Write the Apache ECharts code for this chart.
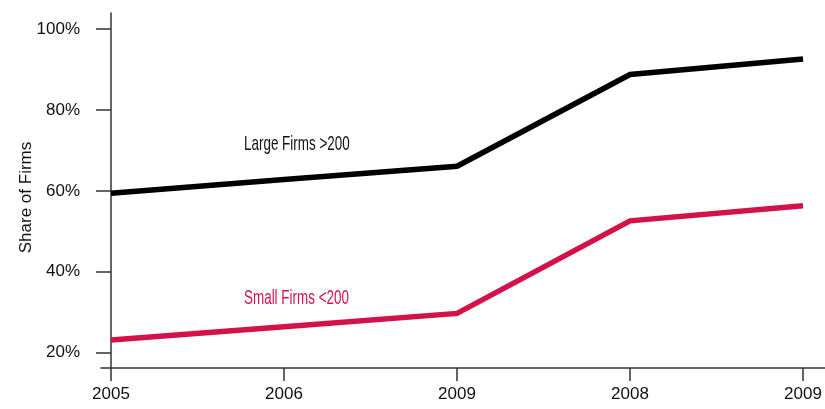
<!DOCTYPE html>
<html>
<head>
<meta charset="utf-8">
<script src="https://cdn.jsdelivr.net/npm/echarts@6/dist/echarts.min.js"></script>
<style>
  html, body { margin: 0; padding: 0; background: #fff; }
  #chart { width: 825px; height: 409px; }
</style>
</head>
<body>
<div id="chart"></div>
<script>
// categories along the x axis (as printed on the original)
const years = ['2005', '2006', '2009', '2008', '2009']
// share of firms, percent
const largeFirms = [59.4, 62.8, 66.1, 88.8, 92.6]
const smallFirms = [23.1, 26.4, 29.7, 52.6, 56.3]
const yTicks = [20, 40, 60, 80, 100]

const FONT = '"Liberation Sans", Arial, sans-serif'
const AXIS_COLOR = '#333'
const RED = '#d4124a'

const chart = echarts.init(document.getElementById('chart'))

const toPairs = (arr) => arr.map((v, i) => [i, v])

const option = {
  animation: false,
  grid: { left: 101, right: 0, top: 13, bottom: 41, containLabel: false, outerBoundsMode: 'none' },
  xAxis: {
    type: 'value',
    min: -0.058,
    max: 4.127,
    splitLine: { show: false },
    axisLine: { show: true, lineStyle: { color: AXIS_COLOR, width: 1.5 } },
    axisTick: {
      show: true,
      length: 13,
      customValues: years.map((_, i) => i),
      lineStyle: { color: AXIS_COLOR, width: 1.5 },
    },
    axisLabel: {
      customValues: years.map((_, i) => i),
      formatter: (v) => years[Math.round(v)],
      margin: 18,
      color: '#111',
      fontFamily: FONT,
      fontSize: 17,
    },
  },
  yAxis: {
    type: 'value',
    min: 16.2,
    max: 104,
    name: 'Share of Firms',
    nameLocation: 'middle',
    nameGap: 66,
    nameMoveOverlap: false,
    nameTextStyle: {
      color: '#111',
      fontFamily: FONT,
      fontSize: 17,
      padding: [0, 14, 0, 0],
    },
    splitLine: { show: false },
    axisLine: { show: true, lineStyle: { color: AXIS_COLOR, width: 1.5 } },
    axisTick: {
      show: true,
      length: 15,
      customValues: yTicks,
      lineStyle: { color: AXIS_COLOR, width: 1.5 },
    },
    axisLabel: {
      customValues: yTicks,
      formatter: '{value}%',
      margin: 21,
      color: '#111',
      fontFamily: FONT,
      fontSize: 17,
    },
  },
  series: [
    {
      name: 'Large Firms >200',
      type: 'line',
      data: toPairs(largeFirms),
      symbol: 'none',
      lineStyle: { color: '#000', width: 5.5, cap: 'butt', join: 'miter' },
    },
    {
      name: 'Small Firms <200',
      type: 'line',
      data: toPairs(smallFirms),
      symbol: 'none',
      lineStyle: { color: RED, width: 5.5, cap: 'butt', join: 'miter' },
    },
  ],
  graphic: [
    {
      type: 'text',
      x: 244,
      y: 144,
      scaleX: 0.64,
      style: {
        text: 'Large Firms >200',
        fill: '#111',
        font: '21px ' + FONT,
        verticalAlign: 'middle',
      },
    },
    {
      type: 'text',
      x: 244,
      y: 298,
      scaleX: 0.64,
      style: {
        text: 'Small Firms <200',
        fill: RED,
        font: '21px ' + FONT,
        verticalAlign: 'middle',
      },
    },
  ],
}

chart.setOption(option)
</script>
</body>
</html>
